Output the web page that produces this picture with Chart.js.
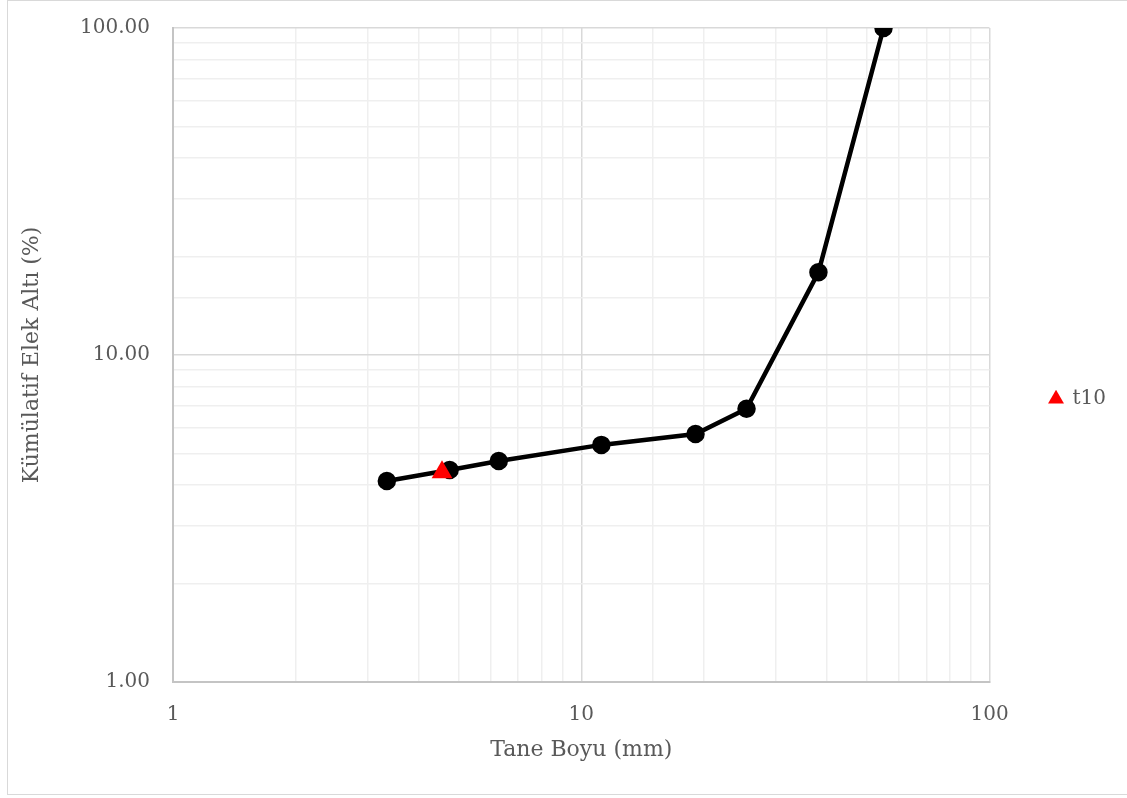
<!DOCTYPE html>
<html>
<head>
<meta charset="utf-8">
<script src="https://cdn.jsdelivr.net/npm/chart.js@4.4.0/dist/chart.umd.min.js"></script>
<style>
  body { margin: 0; background: #fff; }
  #frame { position: absolute; left: 7px; top: 0; width: 1125px; height: 795px; border: 1px solid #d9d9d9; box-sizing: border-box; }
  #wrap { position: absolute; left: 0; top: 0; width: 1127px; height: 798px; }
</style>
</head>
<body>
<div id="frame"></div>
<div id="wrap"><canvas id="chart"></canvas></div>
<script>
// DATA
let sizes = [3.34, 4.76, 6.28, 11.2, 19.05, 25.4, 38.1, 55];
let passing = [4.12, 4.45, 4.74, 5.31, 5.73, 6.85, 17.9, 100];
let t10Size = [4.56];
let t10Value = [4.38];
let xTicks = [1, 10, 100];
let yTicks = [1, 10, 100];

let lineData = sizes.map((s, i) => ({ x: s, y: passing[i] }));
let t10Data = t10Size.map((s, i) => ({ x: s, y: t10Value[i] }));

let font = "'DejaVu Serif', serif";
let textColor = "#595959";

function isMajor(v, list) {
    return list.some(t => Math.abs(t - v) < 1e-9);
}

let ctx = document.getElementById("chart");

new Chart(ctx, {
    type: "scatter",
    data: {
        datasets: [
            {
                label: "t10",
                data: t10Data,
                pointStyle: "triangle",
                pointRadius: 12,
                pointBackgroundColor: "#ff0000",
                pointBorderColor: "#ff0000",
                pointBorderWidth: 0,
                showLine: false,
                order: 0
            },
            {
                label: "line",
                data: lineData,
                showLine: true,
                borderColor: "#000000",
                borderWidth: 4.5,
                pointRadius: 7,
                pointBackgroundColor: "#000000",
                pointBorderColor: "#000000",
                tension: 0,
                order: 1
            }
        ]
    },
    options: {
        responsive: true,
        maintainAspectRatio: false,
        animation: false,
        layout: { padding: { left: 0, right: 11, top: 0, bottom: 0 } },
        plugins: {
            tooltip: { enabled: false },
            legend: {
                position: "right",
                labels: {
                    usePointStyle: true,
                    pointStyle: "triangle",
                    boxWidth: 13,
                    boxHeight: 13,
                    padding: 10,
                    color: textColor,
                    font: { family: font, size: 20 },
                    filter: item => item.text === "t10"
                }
            }
        },
        scales: {
            x: {
                type: "logarithmic",
                min: 1,
                max: 100,
                afterFit: s => { s.height = 116; },
                title: {
                    display: true,
                    text: "Tane Boyu (mm)",
                    color: textColor,
                    font: { family: font, size: 22 },
                    padding: { top: 0, bottom: 35 }
                },
                ticks: {
                    autoSkip: false,
                    maxRotation: 0,
                    color: textColor,
                    font: { family: font, size: 20 },
                    padding: 21,
                    callback: v => isMajor(v, xTicks) ? String(v) : ""
                },
                grid: {
                    color: c => isMajor(c.tick.value, xTicks) ? "#d9d9d9" : "#efefef",
                    lineWidth: 1.5,
                    drawTicks: false
                },
                border: { color: "#c4c4c4", width: 2 }
            },
            y: {
                type: "logarithmic",
                min: 1,
                max: 100,
                afterFit: s => { s.width = 173; s.paddingTop = 28; },
                title: {
                    display: true,
                    text: "Kümülatif Elek Altı (%)",
                    color: textColor,
                    font: { family: font, size: 22 },
                    padding: { top: 19, bottom: 0 }
                },
                ticks: {
                    autoSkip: false,
                    color: textColor,
                    font: { family: font, size: 20 },
                    padding: 23,
                    callback: v => isMajor(v, yTicks) ? v.toFixed(2) : ""
                },
                grid: {
                    color: c => isMajor(c.tick.value, yTicks) ? "#d9d9d9" : "#efefef",
                    lineWidth: 1.5,
                    drawTicks: false
                },
                border: { color: "#c4c4c4", width: 2 }
            },
            // empty spacer between plot area and legend
            gap: {
                type: "linear",
                position: "right",
                display: true,
                afterFit: s => { s.width = 50; },
                ticks: { display: false },
                grid: { display: false, drawOnChartArea: false },
                border: { display: false }
            }
        }
    }
});
</script>
</body>
</html>
